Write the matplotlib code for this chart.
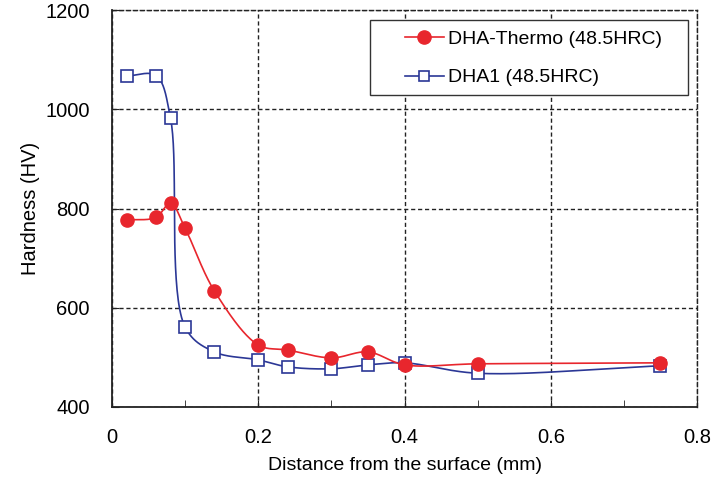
import numpy as np
import matplotlib
matplotlib.use("Agg")
import matplotlib.pyplot as plt
from matplotlib.patches import Rectangle

plt.rcParams['font.family'] = ['Liberation Sans', 'DejaVu Sans']

depth = [0.02, 0.06, 0.08, 0.10, 0.14, 0.20, 0.24, 0.30, 0.35, 0.40, 0.50, 0.75]
thermo = [777, 782, 811, 760, 634, 525, 515, 499, 511, 485, 487, 489]
dha1 = [1067, 1068, 982, 561, 511, 495, 481, 477, 485, 489, 468, 483]
labels = ["DHA-Thermo (48.5HRC)", "DHA1 (48.5HRC)"]

XL = (0, 0.8)
YL = (400, 1200)


def smooth(x, y, n=40, alpha=0.5):
    # centripetal Catmull-Rom spline through the points, computed in screen-like units
    sx = 585.0 / (XL[1] - XL[0])
    sy = 397.0 / (YL[1] - YL[0])
    P = np.column_stack([np.asarray(x, float) * sx, np.asarray(y, float) * sy])
    P = np.vstack([2 * P[0] - P[1], P, 2 * P[-1] - P[-2]])
    out = []
    for i in range(1, len(P) - 2):
        p0, p1, p2, p3 = P[i - 1], P[i], P[i + 1], P[i + 2]
        t0 = 0.0
        t1 = t0 + np.linalg.norm(p1 - p0) ** alpha
        t2 = t1 + np.linalg.norm(p2 - p1) ** alpha
        t3 = t2 + np.linalg.norm(p3 - p2) ** alpha
        t = np.linspace(t1, t2, n)[:, None]
        a1 = (t1 - t) / (t1 - t0) * p0 + (t - t0) / (t1 - t0) * p1
        a2 = (t2 - t) / (t2 - t1) * p1 + (t - t1) / (t2 - t1) * p2
        a3 = (t3 - t) / (t3 - t2) * p2 + (t - t2) / (t3 - t2) * p3
        b1 = (t2 - t) / (t2 - t0) * a1 + (t - t0) / (t2 - t0) * a2
        b2 = (t3 - t) / (t3 - t1) * a2 + (t - t1) / (t3 - t1) * a3
        c = (t2 - t) / (t2 - t1) * b1 + (t - t1) / (t2 - t1) * b2
        out.append(c)
    c = np.vstack(out)
    return c[:, 0] / sx, c[:, 1] / sy


fig = plt.figure(figsize=(7.12, 4.83), dpi=100)
ax = fig.add_axes([112 / 712, 1 - 407 / 483, 585 / 712, 397 / 483])

red = '#e8262d'
blue = '#2b3796'

bx, by = smooth(depth, dha1)
ax.plot(bx, by, color=blue, lw=1.2, zorder=3)
ax.plot(depth, dha1, 's', color=blue, mfc='white', mew=1.2, ms=8.5, zorder=4)
sx_, sy_ = smooth(depth, thermo)
ax.plot(sx_, sy_, color=red, lw=1.2, zorder=4.5)
ax.plot(depth, thermo, 'o', color=red, ms=9.5, zorder=4.6)

# legend (frame drawn separately to match box proportions)
h1, = ax.plot([], [], '-o', color=red, ms=9.5, lw=1.2)
h2, = ax.plot([], [], '-s', color=blue, mfc='white', mew=1.2, ms=7.5, lw=1.2)
leg = ax.legend([h1, h2], labels, loc='center left',
                bbox_to_anchor=((395 - 112) / 585, (407 - 58.5) / 397),
                fontsize=14, frameon=False, handlelength=2.0,
                borderpad=0.0, labelspacing=1.05, handletextpad=0.25)
leg.set_zorder(6)
ax.add_patch(Rectangle(((370 - 112) / 585, (407 - 95) / 397), (688 - 370) / 585, 75 / 397,
                       transform=ax.transAxes, facecolor='white', edgecolor='#333333',
                       lw=1.0, zorder=5))

ax.set_xlim(*XL)
ax.set_ylim(*YL)
ax.set_xticks([0, 0.2, 0.4, 0.6, 0.8])
ax.set_xticklabels(['0', '0.2', '0.4', '0.6', '0.8'])
ax.set_xticks([0.1, 0.3, 0.5, 0.7], minor=True)
ax.set_yticks([400, 600, 800, 1000, 1200])
ax.tick_params(axis='both', which='both', direction='in', labelsize=14.5, color='#222222')
ax.tick_params(which='major', length=5)
ax.tick_params(which='minor', length=5)
ax.tick_params(axis='x', pad=15)
ax.tick_params(axis='y', pad=16)
ax.grid(True, which='major', color='#222222', linestyle=(0, (3, 2)), lw=1.0)

for s in ['left', 'bottom']:
    ax.spines[s].set_color('#222222')
    ax.spines[s].set_linewidth(1.3)
for s in ['top', 'right']:
    ax.spines[s].set_color('#222222')
    ax.spines[s].set_linestyle((0, (3, 2)))
    ax.spines[s].set_linewidth(1.0)

ax.set_xlabel('Distance from the surface (mm)', fontsize=14, labelpad=7)
ax.set_ylabel('Hardness (HV)', fontsize=14.5, labelpad=4)

fig.savefig('out.png', dpi=100)
